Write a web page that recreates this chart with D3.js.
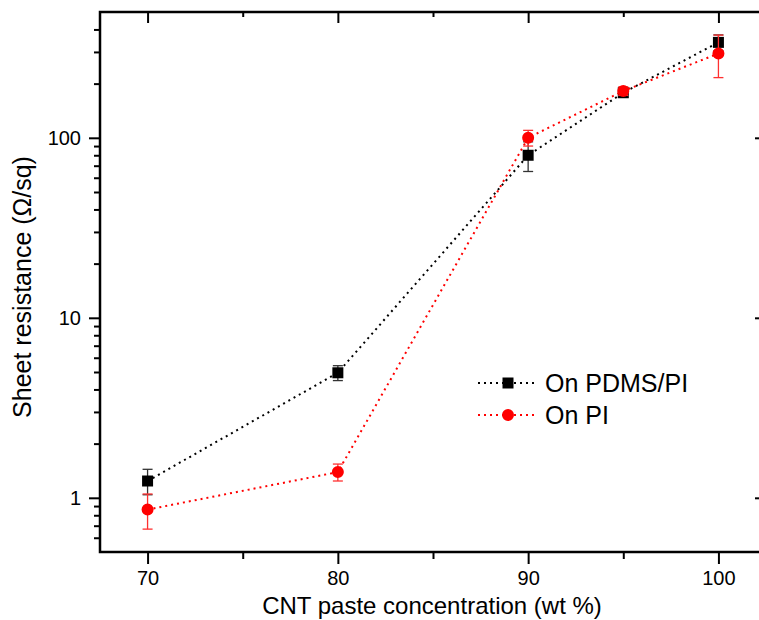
<!DOCTYPE html>
<html>
<head>
<meta charset="utf-8">
<script src="https://cdn.jsdelivr.net/npm/d3@7"></script>
<style>
  body { margin: 0; background: #fff; }
  svg text { font-family: "Liberation Sans", Arial, sans-serif; }
</style>
</head>
<body>
<svg id="chart" width="759" height="620"></svg>
<script>
// data
var conc = [70, 80, 90, 95, 100];
var pdmsPi = [1.24, 4.95, 80, 178, 339];
var pdmsPiErr = [0.2, 0.47, 15, 10, 34];
var onPi = [0.86, 1.39, 100, 182, 294];
var onPiErr = [0.19, 0.15, 10, 10, 78];

var xMajor = [70, 80, 90, 100];
var xMinor = [75, 85, 95];
var yMajor = [1, 10, 100];
var yMinor = [0.6, 0.7, 0.8, 0.9, 2, 3, 4, 5, 6, 7, 8, 9, 20, 30, 40, 50, 60, 70, 80, 90, 200, 300, 400];

var margin = {left: 100, top: 12};
var width = 666, height = 540;

var svg = d3.select("svg#chart");
var g = svg.append("g").attr("transform", "translate(" + margin.left + "," + margin.top + ")");

var x = d3.scaleLinear().domain([67.5, 102.5]).range([0, width]);
var y = d3.scaleLog().domain([0.5, 500]).range([height, 0]);

var styleAxis = function(sel){
    sel.select(".domain").remove();
    sel.selectAll("line").attr("stroke", "#000").attr("stroke-width", 2);
    sel.selectAll("text").attr("fill", "#000").style("font-size", "20px");
};

// bottom axis
g.append("g").attr("transform", "translate(0," + height + ")")
    .call(d3.axisBottom(x).tickValues(xMajor).tickSize(12).tickPadding(7).tickFormat(d3.format("d")))
    .call(styleAxis);
g.append("g").attr("transform", "translate(0," + height + ")")
    .call(d3.axisBottom(x).tickValues(xMinor).tickSize(7).tickFormat(""))
    .call(styleAxis);
// top axis (ticks inside)
g.append("g")
    .call(d3.axisTop(x).tickValues(xMajor).tickSize(-11).tickFormat(""))
    .call(styleAxis);
g.append("g")
    .call(d3.axisTop(x).tickValues(xMinor).tickSize(-5).tickFormat(""))
    .call(styleAxis);
// left axis
g.append("g")
    .call(d3.axisLeft(y).tickValues(yMajor).tickSize(11).tickPadding(8).tickFormat(d3.format("d")))
    .call(styleAxis);
g.append("g")
    .call(d3.axisLeft(y).tickValues(yMinor).tickSize(6).tickFormat(""))
    .call(styleAxis);
// right axis (ticks inside)
g.append("g").attr("transform", "translate(" + width + ",0)")
    .call(d3.axisRight(y).tickValues(yMajor).tickSize(-11).tickFormat(""))
    .call(styleAxis);

// frame
g.append("rect").attr("x", 0).attr("y", 0).attr("width", width).attr("height", height)
    .attr("fill", "none").attr("stroke", "#000").attr("stroke-width", 2.5);

var drawSeries = function(vals, errs, color, errColor, shape){
    var pts = conc.map(function(c, i){ return {x: c, y: vals[i], e: errs[i]}; });
    var line = d3.line().x(function(d){ return x(d.x); }).y(function(d){ return y(d.y); });
    g.append("path").datum(pts).attr("d", line)
        .attr("fill", "none").attr("stroke", color).attr("stroke-width", 2)
        .attr("stroke-dasharray", "2,4");
    var eb = g.append("g").selectAll("g").data(pts).enter().append("g")
        .attr("stroke", errColor).attr("stroke-width", 1.3);
    eb.append("line")
        .attr("x1", function(d){ return x(d.x); }).attr("x2", function(d){ return x(d.x); })
        .attr("y1", function(d){ return y(d.y + d.e); }).attr("y2", function(d){ return y(d.y - d.e); });
    eb.append("line")
        .attr("x1", function(d){ return x(d.x) - 5; }).attr("x2", function(d){ return x(d.x) + 5; })
        .attr("y1", function(d){ return y(d.y + d.e); }).attr("y2", function(d){ return y(d.y + d.e); });
    eb.append("line")
        .attr("x1", function(d){ return x(d.x) - 5; }).attr("x2", function(d){ return x(d.x) + 5; })
        .attr("y1", function(d){ return y(d.y - d.e); }).attr("y2", function(d){ return y(d.y - d.e); });
    var sym = d3.symbol().type(shape == "square" ? d3.symbolSquare : d3.symbolCircle)
        .size(shape == "square" ? 121 : 113);
    g.append("g").selectAll("path").data(pts).enter().append("path")
        .attr("d", sym)
        .attr("transform", function(d){ return "translate(" + x(d.x) + "," + y(d.y) + ")"; })
        .attr("fill", color);
};

drawSeries(pdmsPi, pdmsPiErr, "#000", "#333", "square");
drawSeries(onPi, onPiErr, "#ff0000", "#ff3030", "circle");

// axis titles
svg.append("text").attr("x", 432).attr("y", 614).attr("text-anchor", "middle")
    .style("font-size", "24px").text("CNT paste concentration (wt %)");
svg.append("text").attr("transform", "translate(31,287) rotate(-90)").attr("text-anchor", "middle")
    .style("font-size", "25px").text("Sheet resistance (\u03A9/sq)");

// legend
var legendItems = [
    {label: "On PDMS/PI", color: "#000", shape: "square", y: 383},
    {label: "On PI", color: "#ff0000", shape: "circle", y: 415}
];
var leg = svg.append("g").selectAll("g").data(legendItems).enter().append("g");
leg.append("line").attr("x1", 478).attr("x2", 538)
    .attr("y1", function(d){ return d.y; }).attr("y2", function(d){ return d.y; })
    .attr("stroke", function(d){ return d.color; }).attr("stroke-width", 2).attr("stroke-dasharray", "2,4");
leg.append("path")
    .attr("d", function(d){
        return d3.symbol().type(d.shape == "square" ? d3.symbolSquare : d3.symbolCircle)
            .size(d.shape == "square" ? 121 : 113)();
    })
    .attr("transform", function(d){ return "translate(508," + d.y + ")"; })
    .attr("fill", function(d){ return d.color; });
leg.append("text").attr("x", 545).attr("y", function(d){ return d.y + 9; })
    .style("font-size", "25px").text(function(d){ return d.label; });
</script>
</body>
</html>
